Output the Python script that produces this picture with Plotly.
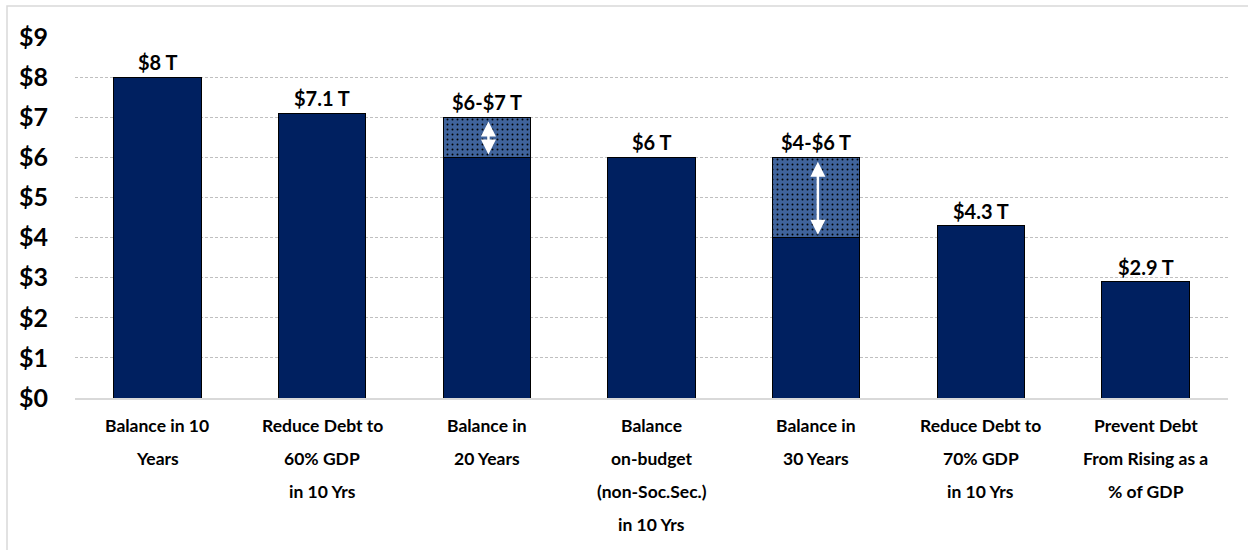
import plotly.graph_objects as go

categories = [
    ["Balance in 10", "Years"],
    ["Reduce Debt to", "60% GDP", "in 10 Yrs"],
    ["Balance in", "20 Years"],
    ["Balance", "on-budget", "(non-Soc.Sec.)", "in 10 Yrs"],
    ["Balance in", "30 Years"],
    ["Reduce Debt to", "70% GDP", "in 10 Yrs"],
    ["Prevent Debt", "From Rising as a", "% of GDP"],
]
base_values = [8, 7.1, 6, 6, 4, 4.3, 2.9]
range_extra = [0, 0, 1, 0, 2, 0, 0]
value_labels = ["$8 T", "$7.1 T", "$6-$7 T", "$6 T", "$4-$6 T", "$4.3 T", "$2.9 T"]
y_ticks = list(range(0, 10))
y_tick_labels = ["$%d" % v for v in y_ticks]

NAVY = "#002060"
RANGE_BLUE = "#40649C"
FONT = "Lato"

x = list(range(len(categories)))

fig = go.Figure()
fig.add_trace(go.Bar(
    x=x, y=base_values, width=0.53,
    marker=dict(color=NAVY, line=dict(color="#000000", width=1)),
    hoverinfo="skip", showlegend=False,
))
fig.add_trace(go.Bar(
    x=x, y=range_extra, width=0.53,
    marker=dict(
        color=RANGE_BLUE,
        line=dict(color="#000000", width=1),
        pattern=dict(shape=".", bgcolor=RANGE_BLUE, fgcolor="#000000",
                     size=5, solidity=0.12, fillmode="replace"),
    ),
    hoverinfo="skip", showlegend=False,
))

annotations = []
for i, (b, e, t) in enumerate(zip(base_values, range_extra, value_labels)):
    annotations.append(dict(
        x=i, y=b + e, xref="x", yref="y", text="<b>%s</b>" % t,
        showarrow=False, yanchor="bottom", yshift=1,
        font=dict(family=FONT, size=20, color="#000000"),
    ))
    if e > 0:
        annotations.append(dict(
            x=i + 0.01, y=b + 0.07, ax=i + 0.01, ay=b + e - 0.07,
            xref="x", yref="y", axref="x", ayref="y",
            text="", showarrow=True, arrowside="end+start",
            arrowhead=2, arrowsize=1.2, arrowwidth=2.5, arrowcolor="#FFFFFF",
        ))
for i, lines in enumerate(categories):
    for j, line in enumerate(lines):
        annotations.append(dict(
            x=i, y=0, xref="x", yref="paper", text="<b>%s</b>" % line,
            showarrow=False, yanchor="middle", yshift=-(27 + 33 * j),
            font=dict(family=FONT, size=17.5, color="#000000"),
        ))

fig.update_layout(
    width=1248, height=550,
    margin=dict(l=75, r=20, t=37, b=152),
    paper_bgcolor="#FFFFFF", plot_bgcolor="#FFFFFF",
    barmode="stack", bargap=0.47,
    font=dict(family=FONT, color="#000000"),
    annotations=annotations,
    hovermode=False,
    xaxis=dict(
        range=[-0.5, len(categories) - 0.5],
        showticklabels=False, showgrid=False, zeroline=False,
        showline=True, linecolor="#D9D9D9", linewidth=1.5, ticks="",
    ),
    yaxis=dict(
        range=[0, 9], tickvals=y_ticks,
        ticktext=["<b>%s</b>" % s for s in y_tick_labels],
        tickfont=dict(family=FONT, size=25, color="#000000"),
        ticklabelstandoff=26,
        showgrid=True, gridcolor="#BFBFBF", griddash="3px,2px", gridwidth=1,
        zeroline=False, showline=False, ticks="",
    ),
    shapes=[dict(
        type="rect", xref="paper", yref="paper",
        x0=(7 - 75) / 1153, x1=1.2, y0=-0.6, y1=(398 - 6) / 361,
        line=dict(color="#D9D9D9", width=1.5), fillcolor="rgba(0,0,0,0)",
        layer="below",
    )],
)

fig.write_html(
    "out.html",
    config={"displayModeBar": False},
    post_script="document.body.style.margin='0';document.body.style.padding='0';",
)
